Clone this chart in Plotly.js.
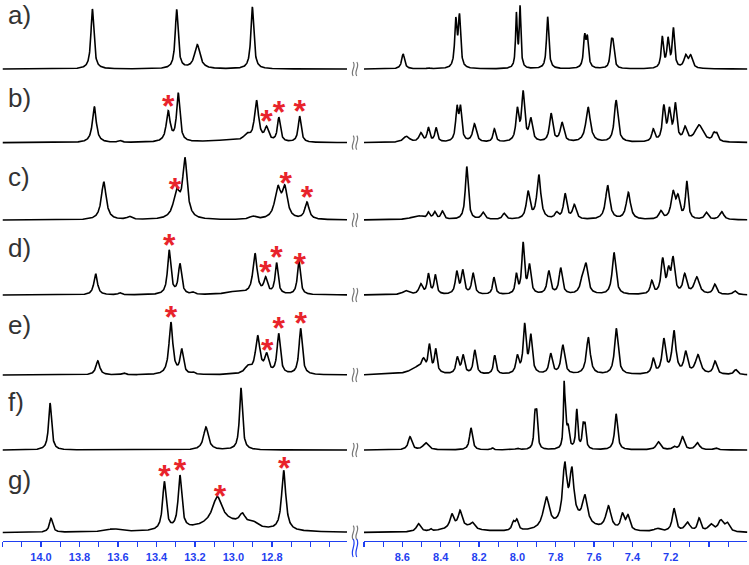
<!DOCTYPE html>
<html><head><meta charset="utf-8">
<script src="https://cdn.plot.ly/plotly-3.0.1.min.js"></script>
<style>html,body{margin:0;padding:0;background:#fff}#chart{width:749px;height:565px}</style>
</head><body><div id="chart"></div>
<script>
// ---------- DATA ----------
const spectrumLabels = ['a)','b)','c)','d)','e)','f)','g)'];
// peaks: [ppm, intensity, half-width (ppm)]
const aLeft = [[13.733,60,0.009],[13.295,59,0.009],[13.188,24,0.017],[12.902,62,0.009]];
const bLeft = [[13.723,36,0.012],[13.59,2,0.01],[13.339,30,0.012],[13.287,48,0.010],[13.05,2,0.12],[12.93,6,0.02],[12.88,40,0.013],[12.828,13,0.012],[12.764,24,0.009],[12.656,26,0.009]];
const cLeft = [[13.674,38,0.015],[13.54,3,0.015],[13.295,26,0.02],[13.252,58,0.014],[12.90,3,0.02],[12.77,30,0.018],[12.733,29,0.016],[12.618,17,0.013]];
const dLeft = [[13.716,21,0.011],[13.59,2,0.01],[13.334,44,0.01],[13.278,30,0.01],[13.21,2,0.01],[12.99,3,0.06],[12.888,40,0.013],[12.833,15,0.011],[12.776,31,0.009],[12.66,34,0.009]];
const eLeft = [[13.705,14,0.012],[13.57,2,0.01],[13.325,52,0.012],[13.269,24,0.01],[13.21,2,0.01],[12.925,7,0.02],[12.874,37,0.014],[12.828,18,0.012],[12.765,40,0.01],[12.651,46,0.01]];
const fLeft = [[13.953,47,0.009],[13.143,23,0.015],[12.961,62,0.009]];
const gLeft = [[13.948,14,0.01],[13.624,3,0.05],[13.359,48,0.011],[13.278,53,0.011],[13.05,10,0.15],[13.084,26,0.03],[12.954,10,0.018],[12.90,5,0.03],[12.739,60,0.013]];

const aRight = [[8.596,15,0.009],[8.464,1,0.008],[8.321,46,0.007],[8.302,50,0.007],[8.005,53,0.005],[7.986,60,0.005],[7.842,52,0.007],[7.649,30,0.007],[7.635,28,0.007],[7.510,22,0.007],[7.501,21,0.007],[7.244,31,0.007],[7.214,28,0.007],[7.186,39,0.007],[7.122,12,0.011],[7.096,12,0.011]];
const bRight = [[8.579,6,0.02],[8.504,9,0.011],[8.464,14,0.008],[8.424,14,0.008],[8.315,32,0.008],[8.297,32,0.008],[8.224,18,0.011],[8.12,13,0.008],[8.0,31,0.009],[7.97,48,0.009],[7.93,22,0.01],[7.824,28,0.01],[7.767,19,0.011],[7.631,35,0.014],[7.485,42,0.011],[7.291,12,0.009],[7.236,34,0.009],[7.207,29,0.009],[7.176,36,0.009],[7.125,13,0.011],[7.052,17,0.025],[6.975,7,0.009],[6.96,7,0.009]];
const cRight = [[8.52,4,0.04],[8.464,6,0.008],[8.431,7,0.009],[8.391,8,0.009],[8.264,53,0.009],[8.179,7,0.011],[8.069,6,0.011],[7.944,27,0.011],[7.888,44,0.012],[7.795,6,0.011],[7.751,25,0.01],[7.703,14,0.011],[7.529,34,0.013],[7.421,27,0.013],[7.252,8,0.011],[7.188,26,0.012],[7.162,20,0.011],[7.116,37,0.008],[7.014,7,0.011],[6.934,8,0.013]];
const dRight = [[8.582,4,0.02],[8.504,10,0.011],[8.464,20,0.008],[8.428,19,0.008],[8.316,22,0.009],[8.285,23,0.009],[8.231,21,0.009],[8.122,17,0.008],[8.005,19,0.007],[7.97,50,0.008],[7.937,28,0.009],[7.836,23,0.01],[7.774,26,0.01],[7.66,13,0.013],[7.642,27,0.012],[7.496,42,0.011],[7.299,13,0.009],[7.242,34,0.01],[7.211,20,0.009],[7.188,34,0.01],[7.127,19,0.011],[7.064,17,0.016],[6.97,10,0.011],[6.866,4,0.011]];
const eRight = [[8.52,7,0.05],[8.49,10,0.011],[8.459,26,0.008],[8.426,23,0.008],[8.313,16,0.009],[8.283,18,0.009],[8.222,24,0.009],[8.118,19,0.008],[8.0,17,0.009],[7.962,48,0.009],[7.93,37,0.009],[7.826,20,0.01],[7.763,29,0.011],[7.63,37,0.012],[7.484,46,0.011],[7.291,15,0.009],[7.236,34,0.011],[7.183,42,0.012],[7.122,21,0.011],[7.058,19,0.016],[6.969,13,0.011],[6.861,5,0.011]];
const fRight = [[8.56,13,0.011],[8.478,7,0.016],[8.242,22,0.009],[8.13,2,0.006],[8.0,1.5,0.011],[7.908,31,0.006],[7.899,31,0.006],[7.756,60,0.0045],[7.748,28,0.0045],[7.735,19,0.007],[7.69,39,0.006],[7.657,21,0.006],[7.647,21,0.006],[7.485,36,0.009],[7.265,8,0.013],[7.183,3,0.009],[7.139,13,0.011],[7.061,7,0.013],[6.965,2,0.011]];
const gRight = [[8.516,8,0.013],[8.452,2,0.006],[8.30,6,0.08],[8.342,13,0.011],[8.299,15,0.011],[8.235,6,0.013],[8.021,8,0.009],[8.003,10,0.009],[7.7,10,0.1],[7.849,31,0.019],[7.753,56,0.013],[7.716,48,0.013],[7.648,27,0.015],[7.525,23,0.016],[7.452,15,0.011],[7.423,14,0.011],[7.27,3,0.02],[7.183,23,0.011],[7.113,9,0.016],[7.052,13,0.01],[6.991,7,0.016],[6.939,11,0.016],[6.905,8,0.013]];

// asterisk-marked signals (ppm)
const aStars = [];
const bStars = [13.339, 12.828, 12.764, 12.655];
const cStars = [13.304, 12.729, 12.618];
const dStars = [13.334, 12.833, 12.776, 12.655];
const eStars = [13.325, 12.824, 12.765, 12.651];
const fStars = [];
const gStars = [13.359, 13.278, 13.07, 12.736];

const leftTickLabels = ['14.0','13.8','13.6','13.4','13.2','13.0','12.8'];
const rightTickLabels = ['8.6','8.4','8.2','8.0','7.8','7.6','7.4','7.2'];
const unitLabel = 'ppm';

// ---------- LAYOUT CONSTANTS ----------
const W = 749, H = 565, AXIS_PX = 541;
const BLUE = '#1f3ff0', RED = '#e8232b', INK = '#000';
const baselinePx = [69, 142.7, 220, 295, 375, 450, 532.7];
const labelPx = [15, 98, 177, 248, 325, 402, 480];
const leftRange = [14.2, 12.41], rightRange = [8.8, 6.80];
const leftDom = [2.5 / W, 347 / W], rightDom = [364 / W, 747.4 / W];

const leftSets = [aLeft, bLeft, cLeft, dLeft, eLeft, fLeft, gLeft];
const rightSets = [aRight, bRight, cRight, dRight, eRight, fRight, gRight];
const starSets = [aStars, bStars, cStars, dStars, eStars, fStars, gStars];

function spec(peaks, x) {
  let s = 0;
  for (const [p, h, w] of peaks) { const d = (x - p) / w; s += h / (1 + d * d); }
  return s;
}
function grid(r) {
  const out = [], lo = Math.min(r[0], r[1]), hi = Math.max(r[0], r[1]);
  for (let v = hi; v >= lo - 1e-9; v -= 0.001) out.push(+v.toFixed(4));
  return out;
}
const gL = grid(leftRange), gR = grid(rightRange);

const traces = [];
spectrumLabels.forEach((lab, i) => {
  const base = AXIS_PX - baselinePx[i];
  traces.push({x: gL, y: gL.map(v => base + spec(leftSets[i], v)), xaxis: 'x', yaxis: 'y',
    mode: 'lines', line: {color: INK, width: 1.6}, hoverinfo: 'skip', showlegend: false});
  traces.push({x: gR, y: gR.map(v => base + spec(rightSets[i], v)), xaxis: 'x2', yaxis: 'y',
    mode: 'lines', line: {color: INK, width: 1.6}, hoverinfo: 'skip', showlegend: false});
  if (starSets[i].length) {
    traces.push({x: starSets[i], y: starSets[i].map(v => base + spec(leftSets[i], v) + 2),
      xaxis: 'x', yaxis: 'y', mode: 'text', text: starSets[i].map(() => '*'),
      textposition: 'middle center', cliponaxis: false,
      textfont: {family: 'Arial, Liberation Sans', size: 32, color: RED, weight: 'bold'},
      hoverinfo: 'skip', showlegend: false});
  }
});

function ticks(lo, hi, labels) {
  const vals = [], txt = [];
  for (let k = Math.round(hi * 10); k >= Math.round(lo * 10); k--) {
    const v = k / 10; vals.push(v);
    const s = v.toFixed(1); txt.push(labels.includes(s) ? s : '');
  }
  return {vals, txt};
}
const tl = ticks(12.5, 14.2, leftTickLabels), tr = ticks(6.9, 8.8, rightTickLabels);

const axisCommon = {
  anchor: 'y', showline: true, linecolor: BLUE, linewidth: 1.3, ticks: 'outside', ticklen: 5,
  tickwidth: 1.2, tickcolor: BLUE, showgrid: false, zeroline: false, fixedrange: true, automargin: false,
  tickfont: {family: 'Arial, Liberation Sans', size: 11, color: BLUE, weight: 'bold'}, tickmode: 'array'
};

// break marks
const px2x = p => p / W, px2y = p => (AXIS_PX - p) / AXIS_PX;
function squiggle(cx, cy, h, color, width) {
  const seg = (x) => `M ${px2x(x)},${px2y(cy - h)} C ${px2x(x + 3.5)},${px2y(cy - h / 3)} ${px2x(x - 3.5)},${px2y(cy + h / 3)} ${px2x(x)},${px2y(cy + h)}`;
  return [
    {type: 'path', xref: 'paper', yref: 'paper', path: seg(cx - 1.8), line: {color, width}},
    {type: 'path', xref: 'paper', yref: 'paper', path: seg(cx + 1.8), line: {color, width}}
  ];
}
let shapes = [];
baselinePx.forEach(b => { shapes = shapes.concat(squiggle(355, b, 7, '#777', 1.2)); });
shapes = shapes.concat(squiggle(355, 548, 9, BLUE, 1.2));

const annotations = spectrumLabels.map((t, i) => ({
  text: t, xref: 'paper', yref: 'y', x: 6 / W, y: AXIS_PX - labelPx[i], xanchor: 'left', yanchor: 'middle',
  showarrow: false, font: {family: 'Arial, Liberation Sans', size: 26, color: '#333'}
}));
annotations.push({text: unitLabel, xref: 'paper', yref: 'y', x: 732 / W, y: AXIS_PX - 556,
  xanchor: 'center', yanchor: 'middle', showarrow: false,
  font: {family: 'Arial, Liberation Sans', size: 11, color: BLUE, weight: 'bold'}});

const layout = {
  width: W, height: H, margin: {l: 0, r: 0, t: 0, b: H - AXIS_PX, pad: 0},
  paper_bgcolor: '#fff', plot_bgcolor: '#fff', showlegend: false,
  xaxis: Object.assign({}, axisCommon, {domain: leftDom, range: leftRange, tickvals: tl.vals, ticktext: tl.txt}),
  xaxis2: Object.assign({}, axisCommon, {domain: rightDom, range: rightRange, tickvals: tr.vals, ticktext: tr.txt}),
  yaxis: {range: [0, AXIS_PX], visible: false, fixedrange: true, domain: [0, 1]},
  annotations, shapes
};
Plotly.newPlot('chart', traces, layout, {staticPlot: true, displayModeBar: false});
</script></body></html>
